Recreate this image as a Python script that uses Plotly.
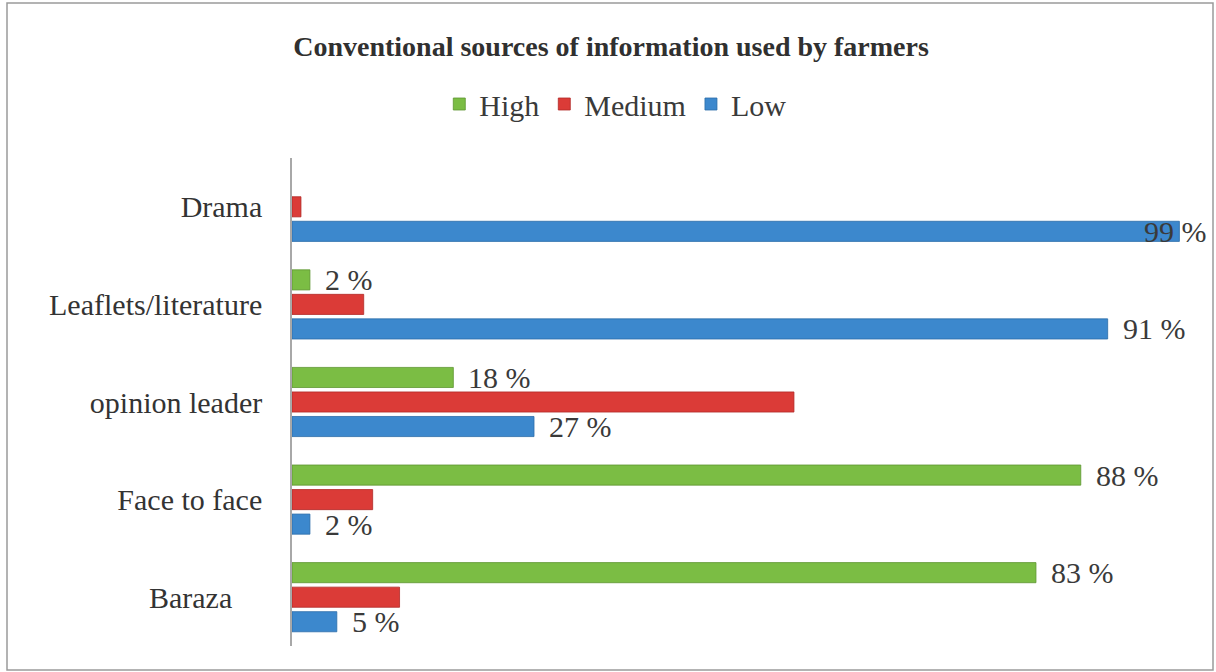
import plotly.graph_objects as go

# ---- data ----
categories = ["Baraza", "Face to face", "opinion leader", "Leaflets/literature", "Drama"]
tick_labels = ["Baraza\u00a0\u00a0\u00a0\u00a0", "Face to face", "opinion leader", "Leaflets/literature", "Drama"]
high = [83, 88, 18, 2, 0]
medium = [12, 9, 56, 8, 1]
low = [5, 2, 27, 91, 99]
high_labels = ["83 %", "88 %", "18 %", "2 %", None]
medium_labels = [None, None, None, None, None]
low_labels = ["5 %", "2 %", "27 %", "91 %", "99 %"]

title = "Conventional sources of information used by farmers"

# ---- styles ----
FONT = '"Liberation Serif", "Times New Roman", Times, serif'
GREEN, GREEN_D = "#7BBD44", "#5E9631"
RED, RED_D = "#DB3B37", "#B12A27"
BLUE, BLUE_D = "#3C88CD", "#2B6CA8"
BARGAP = 0.246
slot = (1 - BARGAP) / 3


def line_widths(vals):
    return [0.8 if v > 0 else 0 for v in vals]


fig = go.Figure()
# trace order bottom->top within group: Low, Medium, High
fig.add_trace(go.Bar(y=categories, x=low, name="Low", orientation="h",
                     marker=dict(color=BLUE, line=dict(color=BLUE_D, width=line_widths(low)))))
fig.add_trace(go.Bar(y=categories, x=medium, name="Medium", orientation="h",
                     marker=dict(color=RED, line=dict(color=RED_D, width=line_widths(medium)))))
fig.add_trace(go.Bar(y=categories, x=high, name="High", orientation="h",
                     marker=dict(color=GREEN, line=dict(color=GREEN_D, width=line_widths(high)))))

annotations = []
for series_vals, series_labels, offset in [(high, high_labels, slot),
                                           (medium, medium_labels, 0.0),
                                           (low, low_labels, -slot)]:
    for i, (v, lab) in enumerate(zip(series_vals, series_labels)):
        if lab is None:
            continue
        xshift = 13 if v < 95 else -37
        annotations.append(dict(x=v, y=i + offset, xref="x", yref="y", text=lab,
                                showarrow=False, xanchor="left", yanchor="middle",
                                xshift=xshift,
                                font=dict(family=FONT, size=30, color="#3a3a3a")))

fig.update_layout(
    width=1216, height=672,
    barmode="group", bargap=BARGAP, bargroupgap=0.18,
    paper_bgcolor="white", plot_bgcolor="white",
    margin=dict(l=292, r=16, t=158, b=26, pad=0),
    title=dict(text="<b>" + title + "</b>", x=0.5025, y=1 - 46 / 672,
               xref="container", yref="container", xanchor="center", yanchor="middle",
               font=dict(family=FONT, size=28, color="#303030")),
    legend=dict(orientation="h", traceorder="reversed",
                x=0.506, y=1 - 104 / 672, xref="container", yref="container",
                xanchor="center", yanchor="middle",
                font=dict(family=FONT, size=30, color="#3a3a3a"),
                itemwidth=30, bgcolor="rgba(0,0,0,0)"),
    xaxis=dict(range=[0, 101.3], visible=False, fixedrange=True),
    yaxis=dict(type="category", categoryorder="array", categoryarray=categories,
               tickvals=categories, ticktext=tick_labels,
               range=[-0.5, 4.5],
               showline=True, linecolor="#a8a8a8", linewidth=1.5,
               showgrid=False, ticks="", ticklabelstandoff=22,
               tickfont=dict(family=FONT, size=30, color="#333333")),
    annotations=annotations,
    shapes=[dict(type="rect", xref="paper", yref="paper",
                 x0=(7 - 292) / 908, x1=(1213 - 292) / 908,
                 y0=(646 - 670) / 488, y1=(646 - 3) / 488,
                 line=dict(color="#9a9a9a", width=1.5), fillcolor="rgba(0,0,0,0)",
                 layer="below")],
    showlegend=True,
)

fig.write_html("out.html")
